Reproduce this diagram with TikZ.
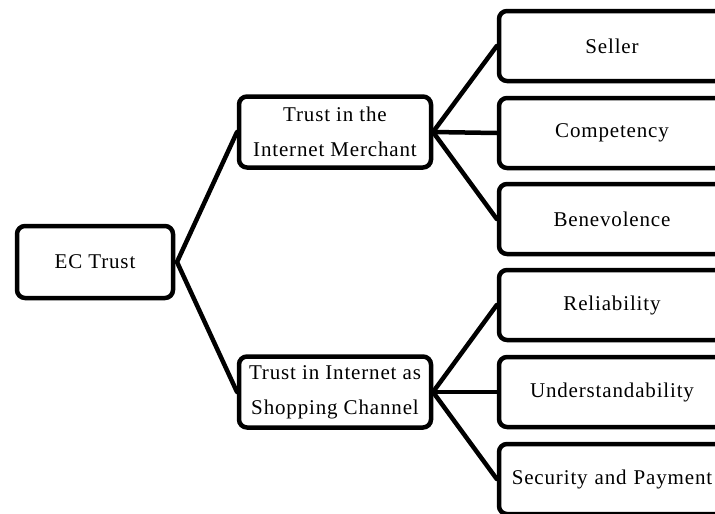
\documentclass[tikz,border=0pt]{standalone}
\usepackage{fontspec}
\setmainfont{Liberation Serif}[LetterSpace=4]
\begin{document}
\begin{tikzpicture}[x=1pt,y=-1pt,
  box/.style={draw=black,line width=4.5pt,rounded corners=8pt,fill=white,
    inner sep=0pt,align=center,font=\fontsize{21}{35}\selectfont},
  rootbox/.style={box,minimum width=156pt,minimum height=72pt},
  midbox/.style={box,minimum width=192pt,minimum height=71pt},
  leafbox/.style={box,minimum width=226pt,minimum height=70pt,text width=226pt},
  link/.style={line width=4.5pt,line cap=round}]
\useasboundingbox (0,0) rectangle (715,514);
\clip (0,0) rectangle (715,514);

% tree links
\coordinate (ecE) at (177,262);
\coordinate (m1W) at (237,132);
\coordinate (m2W) at (237,392);
\coordinate (m1E) at (433,132);
\coordinate (m2E) at (433,392);

\draw[link] (ecE) -- (m1W);
\draw[link] (ecE) -- (m2W);

\node[leafbox] (seller) at (612,46) {Seller};
\node[leafbox] (comp)   at (612,133) {Competency};
\node[leafbox] (bene)   at (612,219) {Benevolence};
\node[leafbox] (reli)   at (612,305) {Reliability};
\node[leafbox] (under)  at (612,392) {Understandability};
\node[leafbox] (secu)   at (612,479) {Security and Payment};

\draw[link] (m1E) -- (seller.west);
\draw[link] (m1E) -- (comp.west);
\draw[link] (m1E) -- (bene.west);
\draw[link] (m2E) -- (reli.west);
\draw[link] (m2E) -- (under.west);
\draw[link] (m2E) -- (secu.west);

\node[rootbox] (ec) at (95,262) {EC Trust};
\node[midbox] (merchant) at (335,132) {Trust in the\\Internet Merchant};
\node[midbox] (channel)  at (335,392) {Trust in Internet as\\Shopping Channel};
\end{tikzpicture}
\end{document}
